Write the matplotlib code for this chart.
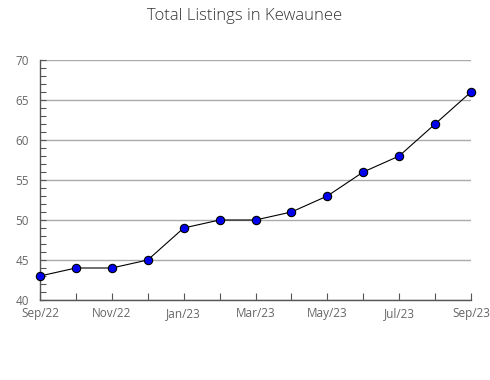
import matplotlib
matplotlib.use("Agg")
import matplotlib.pyplot as plt
from matplotlib.ticker import MultipleLocator

months = ["Sep/22", "Oct/22", "Nov/22", "Dec/22", "Jan/23", "Feb/23", "Mar/23",
          "Apr/23", "May/23", "Jun/23", "Jul/23", "Aug/23", "Sep/23"]
listings = [43, 44, 44, 45, 49, 50, 50, 51, 53, 56, 58, 62, 66]
tick_labels = ["Sep/22", "Nov/22", "Jan/23", "Mar/23", "May/23", "Jul/23", "Sep/23"]

plt.rcParams['font.family'] = ['Open Sans', 'DejaVu Sans']

fig = plt.figure(figsize=(4.9, 3.8), dpi=100)
ax = fig.add_axes([40/490, 80/380, 431/490, 240/380])

x = list(range(len(months)))
ax.plot(x, listings, color='black', linewidth=0.8, marker='o', markersize=6,
        markerfacecolor='#0000ee', markeredgecolor='black', markeredgewidth=0.8,
        zorder=3, clip_on=False)

ax.set_xlim(0, len(months) - 1)
ax.set_ylim(40, 70)
ax.yaxis.set_major_locator(MultipleLocator(5))
ax.yaxis.set_minor_locator(MultipleLocator(1))
ax.set_xticks(x, minor=True)
ax.set_xticks(x[::2])
ax.set_xticklabels(tick_labels)

ax.grid(axis='y', which='major', color='#aaaaaa', linewidth=1)
ax.set_axisbelow(True)
for s in ['top', 'right']:
    ax.spines[s].set_visible(False)
for s in ['left', 'bottom']:
    ax.spines[s].set_color('#555555')
    ax.spines[s].set_linewidth(1)

ax.tick_params(axis='both', which='both', direction='in', colors='#555555',
               labelcolor='#666666', labelsize=8.5, width=0.8)
ax.tick_params(axis='y', which='major', length=4, pad=8)
ax.tick_params(axis='y', which='minor', length=4)
ax.tick_params(axis='x', which='both', length=5, pad=5)

fig.suptitle("Total Listings in Kewaunee", x=0.5, y=1 - 16/380, va='center',
             fontsize=12, color='#333333', fontweight='light')

fig.savefig("out.png", dpi=100, facecolor='white')
